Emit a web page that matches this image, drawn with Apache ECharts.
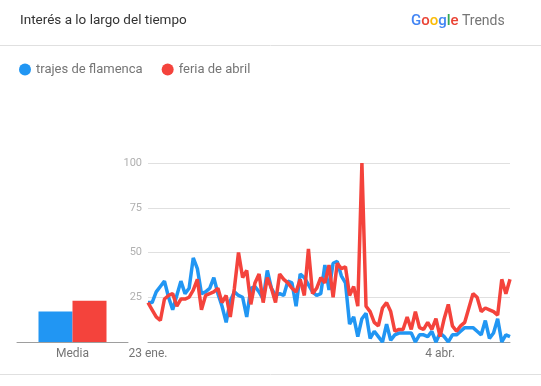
<!DOCTYPE html>
<html><head><meta charset="utf-8">
<script src="https://cdn.jsdelivr.net/npm/echarts@6/dist/echarts.min.js"></script>
<style>html,body{margin:0;padding:0;background:#fff}#c{width:541px;height:386px}</style>
</head><body><div id="c"></div>
<script>
// ---- data ----
const seriesNames = ['trajes de flamenca', 'feria de abril'];
const trajes = [22,22,28,31,34,25,18,26,34,27,30,47,41,27,28,30,36,27,20,11,23,28,26,25,14,30,31,28,24,40,30,26,27,26,34,33,20,38,36,32,28,26,27,43,29,44,45,37,33,10,14,3,13,16,2,6,3,0,10,1,4,5,5,5,5,0,4,4,3,6,0,5,3,0,4,4,6,8,8,8,6,4,12,2,5,13,0,4,3];
const feria = [22,18,14,12,24,26,27,20,24,24,25,29,35,18,26,27,28,30,22,26,14,30,50,36,40,21,33,38,22,36,30,22,38,35,33,30,28,35,26,52,27,30,36,33,43,25,44,41,42,26,31,20,100,20,17,11,9,19,22,17,6,7,7,14,7,17,8,7,11,7,13,3,13,21,9,6,9,11,19,27,25,17,19,18,17,15,35,27,35];
const averages = [17, 23];
const avgCategories = ['Media'];
const tickLabels = ['23 ene.', '4 abr.'];
const yTicks = [0, 25, 50, 75, 100];
// date categories (23 ene. onwards, daily)
const monthNames = ['ene.', 'feb.', 'mar.', 'abr.'];
const monthDays = [31, 28, 31, 30];
const categories = [];
(function(){ let m = 0, d = 23; for (let i = 0; i < trajes.length; i++) { categories.push(d + ' ' + monthNames[m]); d++; if (d > monthDays[m]) { d = 1; m++; } } })();

const BLUE = '#2196f3', RED = '#f4433c';
const chart = echarts.init(document.getElementById('c'), null, {renderer: 'canvas'});
const FONT = 'Roboto';
chart.setOption({
  animation: false,
  textStyle: {fontFamily: FONT},
  color: [BLUE, RED],
  legend: {
    left: 14, top: 58, icon: 'circle', itemWidth: 12, itemHeight: 12, itemGap: 19,
    data: seriesNames,
    textStyle: {color: '#757575', fontSize: 13, fontFamily: FONT}
  },
  graphic: [
    {type: 'text', left: 20, top: 14, style: {text: 'Interés a lo largo del tiempo', fill: '#333', font: '13.5px Roboto'}},
    {type: 'text', left: 411, top: 14, style: {
      text: '{b|G}{r|o}{y|o}{b|g}{g|l}{r|e} {t|Trends}',
      rich: {
        b: {fill: '#4285f4', font: '500 15px Roboto'},
        r: {fill: '#ea4335', font: '500 15px Roboto'},
        y: {fill: '#fbbc05', font: '500 15px Roboto'},
        g: {fill: '#34a853', font: '500 15px Roboto'},
        t: {fill: '#757575', font: '14px Roboto'}
      }}},
    {type: 'line', shape: {x1: 0, y1: 45.5, x2: 541, y2: 45.5}, style: {stroke: '#e0e0e0', lineWidth: 1}},
    {type: 'line', shape: {x1: 0, y1: 374.5, x2: 541, y2: 374.5}, style: {stroke: '#e0e0e0', lineWidth: 1}}
  ],
  grid: [
    {left: 17, width: 111, top: 163, bottom: 44},
    {left: 148, right: 31, top: 163, bottom: 44}
  ],
  xAxis: [
    {gridIndex: 0, type: 'category', data: avgCategories,
      axisLine: {lineStyle: {color: '#9e9e9e'}}, axisTick: {show: false},
      axisLabel: {color: '#757575', fontSize: 12, margin: 6}},
    {gridIndex: 1, type: 'category', data: categories, boundaryGap: false,
      axisLine: {lineStyle: {color: '#9e9e9e'}}, axisTick: {show: false},
      axisLabel: {color: '#757575', fontSize: 12, margin: 6,
        interval: function(i, v){ return tickLabels.indexOf(v) >= 0; }}}
  ],
  yAxis: [
    {gridIndex: 0, type: 'value', min: 0, max: 100, interval: 25, show: false},
    {gridIndex: 1, type: 'value', min: 0, max: 100, interval: 25,
      axisLine: {show: false}, axisTick: {show: false},
      splitLine: {lineStyle: {color: '#e0e0e0'}},
      axisLabel: {color: '#b0b0b0', fontSize: 11, margin: 6,
        formatter: function(v){ return (v === 0 || yTicks.indexOf(v) < 0) ? '' : String(v); }}}
  ],
  series: [
    {name: seriesNames[0], type: 'bar', xAxisIndex: 0, yAxisIndex: 0, data: [averages[0]], barWidth: 34, barGap: '0%', itemStyle: {color: BLUE}},
    {name: seriesNames[1], type: 'bar', xAxisIndex: 0, yAxisIndex: 0, data: [averages[1]], barWidth: 34, barGap: '0%', itemStyle: {color: RED}},
    {name: seriesNames[0], type: 'line', xAxisIndex: 1, yAxisIndex: 1, data: trajes, showSymbol: false, lineStyle: {width: 3.5, color: BLUE}, itemStyle: {color: BLUE}, z: 3},
    {name: seriesNames[1], type: 'line', xAxisIndex: 1, yAxisIndex: 1, data: feria, showSymbol: false, lineStyle: {width: 3.5, color: RED}, itemStyle: {color: RED}, z: 4}
  ]
});
</script></body></html>
